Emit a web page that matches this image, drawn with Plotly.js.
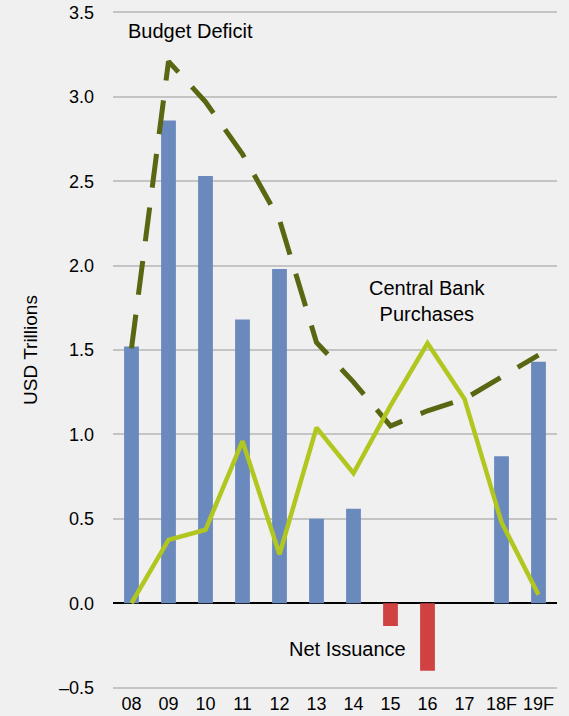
<!DOCTYPE html>
<html>
<head>
<meta charset="utf-8">
<script src="https://cdn.plot.ly/plotly-3.0.1.min.js"></script>
<style>html,body{margin:0;padding:0;background:#f0f0f0;}#chart{width:569px;height:716px;}</style>
</head>
<body>
<div id="chart"></div>
<script>
const years = ["08","09","10","11","12","13","14","15","16","17","18F","19F"];
const netIssuance = [1.52, 2.86, 2.53, 1.68, 1.98, 0.50, 0.56, -0.135, -0.40, null, 0.87, 1.43];
const budgetDeficit = [1.51, 3.21, 2.97, 2.66, 2.27, 1.545, 1.31, 1.05, 1.14, 1.21, 1.34, 1.47];
const centralBank = [0.0, 0.375, 0.435, 0.96, 0.29, 1.04, 0.77, 1.17, 1.54, 1.21, 0.48, 0.05];
const yTicks = [-0.5, 0, 0.5, 1, 1.5, 2, 2.5, 3, 3.5];
const yTickText = ["\u20130.5", "0.0", "0.5", "1.0", "1.5", "2.0", "2.5", "3.0", "3.5"];

const barColors = netIssuance.map(v => v < 0 ? "#d04242" : "#6a89bd");

const traces = [
  {type: "bar", x: years, y: netIssuance, width: 0.4,
   marker: {color: barColors},
   hoverinfo: "skip", showlegend: false},
  {type: "scatter", mode: "lines", x: years, y: budgetDeficit,
   line: {color: "#5b6612", width: 5, dash: "34px,20px"}, showlegend: false},
  {type: "scatter", mode: "lines", x: years, y: centralBank,
   line: {color: "#b2c620", width: 4.5}, showlegend: false}
];

const font = "Liberation Sans, Arial, sans-serif";
const layout = {
  width: 569, height: 716,
  paper_bgcolor: "#f0f0f0", plot_bgcolor: "#f0f0f0",
  margin: {l: 113, r: 12, t: 9, b: 25},
  font: {family: font, color: "#000", size: 18},
  xaxis: {type: "category", categoryorder: "array", categoryarray: years,
    range: [-0.5, 11.5], showgrid: false, zeroline: false, showline: false,
    ticks: "", tickfont: {size: 18, family: font}, ticklabelstandoff: 0},
  yaxis: {range: [-0.52, 3.52], tickvals: yTicks, ticktext: yTickText,
    showgrid: true, gridcolor: "#c4c4c4", gridwidth: 2,
    zeroline: true, zerolinecolor: "#000", zerolinewidth: 2.5,
    showline: false, ticks: "", ticklabelstandoff: 18,
    tickfont: {size: 18, family: font},
    title: {text: "USD Trillions", font: {size: 19, family: font}, standoff: 16}},
  annotations: [
    {x: 1.59, y: 3.39, xref: "x", yref: "y", text: "Budget Deficit", showarrow: false,
     font: {size: 20, family: font}},
    {x: 8.0, y: 1.79, xref: "x", yref: "y", text: "Central Bank<br>Purchases", showarrow: false,
     font: {size: 20, family: font}},
    {x: 5.83, y: -0.273, xref: "x", yref: "y", text: "Net Issuance", showarrow: false,
     font: {size: 20, family: font}}
  ],
  bargap: 0.6
};
Plotly.newPlot("chart", traces, layout, {displayModeBar: false, staticPlot: true});
</script>
</body>
</html>
